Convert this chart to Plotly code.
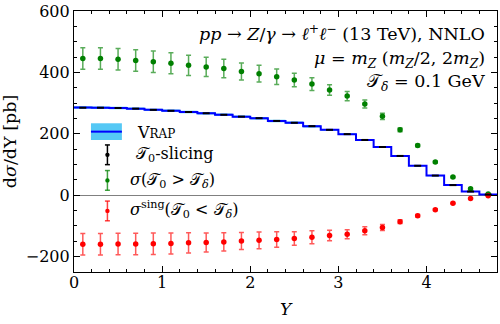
import plotly.graph_objects as go

# ---- data ----
Y = [0.1, 0.3, 0.5, 0.7, 0.9, 1.1, 1.3, 1.5, 1.7, 1.9, 2.1, 2.3,
     2.5, 2.7, 2.9, 3.1, 3.3, 3.5, 3.7, 3.9, 4.1, 4.3, 4.5, 4.7]
sigma_above = [445, 445, 443, 439, 435, 430, 423, 418, 413, 403, 396, 386,
               375, 362, 343, 323, 297, 257, 213, 162, 108, 59, 21, 4]
sigma_sing = [-160, -160, -159, -159, -158, -157, -155, -154, -152, -149, -147, -144,
              -141, -137, -131, -127, -116, -105, -86, -67, -47, -26, -11, -2]
scale_err = [35, 35, 35, 35, 35, 34, 33, 31, 30, 28, 27, 25,
             22, 21, 17, 15, 13, 10, 6, 4, 3, 2, 1, 1]
tau_slicing = [285, 285, 284, 282, 278, 275, 271, 267, 262, 256, 251, 242,
               236, 225, 213, 199, 180, 157, 128, 96, 64, 33, 12, 2]
tau_err = [1, 1, 1, 1, 1, 1, 1, 1, 1, 1, 1, 1, 1, 1, 1, 1, 1, 1, 1, 1, 1, 1, 1, 1]
bin_edges = [0.0, 0.2, 0.4, 0.6, 0.8, 1.0, 1.2, 1.4, 1.6, 1.8, 2.0, 2.2, 2.4,
             2.6, 2.8, 3.0, 3.2, 3.4, 3.6, 3.8, 4.0, 4.2, 4.4, 4.6, 4.8]
vrap = [286, 285, 284, 282, 278, 275, 271, 267, 262, 256, 251, 242,
        236, 225, 213, 199, 180, 157, 128, 96, 64, 33, 12, 2]
vrap_band = [4, 4, 4, 4, 4, 4, 4, 4, 4, 4, 4, 4, 4, 4, 3, 3, 3, 3, 3, 2, 2, 1, 1, 1]

SERIF = "DejaVu Serif, Liberation Serif, serif"
LIGHTBLUE = "rgb(85,200,245)"
BLUE = "rgb(0,0,255)"
GREEN = "rgb(0,128,0)"
RED = "rgb(255,0,0)"

vrap_step = vrap + [vrap[-1]]
vrap_hi = [v + e for v, e in zip(vrap, vrap_band)]
vrap_lo = [v - e for v, e in zip(vrap, vrap_band)]
vrap_hi = vrap_hi + [vrap_hi[-1]]
vrap_lo = vrap_lo + [vrap_lo[-1]]

fig = go.Figure()
fig.add_trace(go.Scatter(x=bin_edges, y=vrap_hi, mode="lines", line=dict(width=0, shape="hv"),
                         hoverinfo="skip", showlegend=False))
fig.add_trace(go.Scatter(x=bin_edges, y=vrap_lo, mode="lines", line=dict(width=0, shape="hv"),
                         fill="tonexty", fillcolor=LIGHTBLUE, hoverinfo="skip", showlegend=False))
fig.add_trace(go.Scatter(x=bin_edges, y=vrap_step, mode="lines",
                         line=dict(color=BLUE, width=2, shape="hv"), showlegend=False))
fig.add_trace(go.Scatter(x=Y, y=sigma_above, mode="markers",
                         marker=dict(color=GREEN, size=5.5),
                         error_y=dict(type="data", array=scale_err, color="rgba(0,128,0,0.65)",
                                      thickness=1.5, width=2.5),
                         showlegend=False))
fig.add_trace(go.Scatter(x=Y, y=sigma_sing, mode="markers",
                         marker=dict(color=RED, size=5.5),
                         error_y=dict(type="data", array=scale_err, color="rgba(255,0,0,0.65)",
                                      thickness=1.5, width=2.5),
                         showlegend=False))
fig.add_trace(go.Scatter(x=Y, y=tau_slicing, mode="markers",
                         marker=dict(color="black", size=5, symbol="line-ew",
                                     line=dict(color="black", width=2)),
                         error_y=dict(type="data", array=tau_err, color="black",
                                      thickness=1, width=0),
                         showlegend=False))

# ---- manual legend (paper coordinates from pixel positions) ----
L, R, T, B = 74, 498, 7, 272
def px(x):
    return (x - L) / (R - L)
def py(y):
    return (B - y) / (B - T)

shapes = []
annotations = []
shapes.append(dict(type="rect", xref="paper", yref="paper", x0=px(91), x1=px(122),
                   y0=py(138), y1=py(121), fillcolor=LIGHTBLUE, line=dict(width=0)))
shapes.append(dict(type="line", xref="paper", yref="paper", x0=px(91), x1=px(122),
                   y0=py(129.5), y1=py(129.5), line=dict(color=BLUE, width=2)))
for yc, col, barcol in [(153, "black", "black"), (179, GREEN, "rgba(0,128,0,0.75)"),
                        (210, RED, "rgba(255,0,0,0.75)")]:
    shapes.append(dict(type="line", xref="paper", yref="paper", x0=px(107.5), x1=px(107.5),
                       y0=py(yc - 10), y1=py(yc + 10), line=dict(color=barcol, width=1.5)))
    for yy in (yc - 10, yc + 10):
        shapes.append(dict(type="line", xref="paper", yref="paper", x0=px(105), x1=px(110),
                           y0=py(yy), y1=py(yy), line=dict(color=barcol, width=1.5)))
    shapes.append(dict(type="circle", xref="paper", yref="paper", x0=px(105.3), x1=px(109.7),
                       y0=py(yc + 2.2), y1=py(yc - 2.2), fillcolor=col, line=dict(width=0)))

T_ = "𝒯"
leg_texts = [
    (135, 130, "V<span style='font-size:12px'>RAP</span>"),
    (134, 153, T_ + "<sub>0</sub>-slicing"),
    (128, 179, "<i>σ</i>(" + T_ + "<sub>0</sub> > " + T_ + "<sub><i>δ</i></sub>)"),
    (128, 209, "<i>σ</i><sup>sing</sup>(" + T_ + "<sub>0</sub> < " + T_ + "<sub><i>δ</i></sub>)"),
]
for x, y, t in leg_texts:
    annotations.append(dict(xref="paper", yref="paper", x=px(x), y=py(y), text=t,
                            showarrow=False, xanchor="left", yanchor="middle",
                            font=dict(family=SERIF, size=16, color="black")))

info = [
    (29, "<i>pp</i> → <i>Z</i>/<i>γ</i> → <i>ℓ</i><sup>+</sup><i>ℓ</i><sup>−</sup> (13 TeV), NNLO"),
    (56, "<i>μ</i> = <i>m<sub>Z</sub></i> (<i>m<sub>Z</sub></i>/2, 2<i>m<sub>Z</sub></i>)"),
    (80, T_ + "<sub><i>δ</i></sub> = 0.1 GeV"),
]
for y, t in info:
    annotations.append(dict(xref="paper", yref="paper", x=px(488), y=py(y), text=t,
                            showarrow=False, xanchor="right", yanchor="middle",
                            font=dict(family=SERIF, size=17.5, color="black")))

axis_common = dict(showline=True, linecolor="black", linewidth=1.2, mirror="allticks",
                   ticks="inside", ticklen=6, tickwidth=1, tickcolor="black",
                   showgrid=False, ticklabeloverflow="allow",
                   tickfont=dict(family=SERIF, size=16, color="black"))

fig.update_layout(
    width=500, height=324,
    margin=dict(l=L, r=500 - R, t=T, b=324 - B),
    plot_bgcolor="white", paper_bgcolor="white",
    showlegend=False,
    shapes=shapes, annotations=annotations,
    xaxis=dict(range=[0, 4.8], dtick=1, tick0=0, zeroline=False,
               minor=dict(ticks="inside", dtick=0.2, ticklen=3, tickcolor="black", showgrid=False),
               ticklabelstandoff=-4,
               title=dict(text="<i>Y</i>", font=dict(family=SERIF, size=17, color="black"),
                          standoff=11),
               **axis_common),
    yaxis=dict(range=[-250, 600], dtick=200, tick0=0,
               zeroline=True, zerolinecolor="rgb(128,128,128)", zerolinewidth=1,
               minor=dict(ticks="inside", dtick=50, ticklen=3, tickcolor="black", showgrid=False),
               title=dict(text="d<i>σ</i>/dY [pb]", font=dict(family=SERIF, size=17.5, color="black"),
                          standoff=5),
               **axis_common),
)

fig.write_html("out.html", config={"displayModeBar": False},
               post_script="document.body.style.margin='0';")
